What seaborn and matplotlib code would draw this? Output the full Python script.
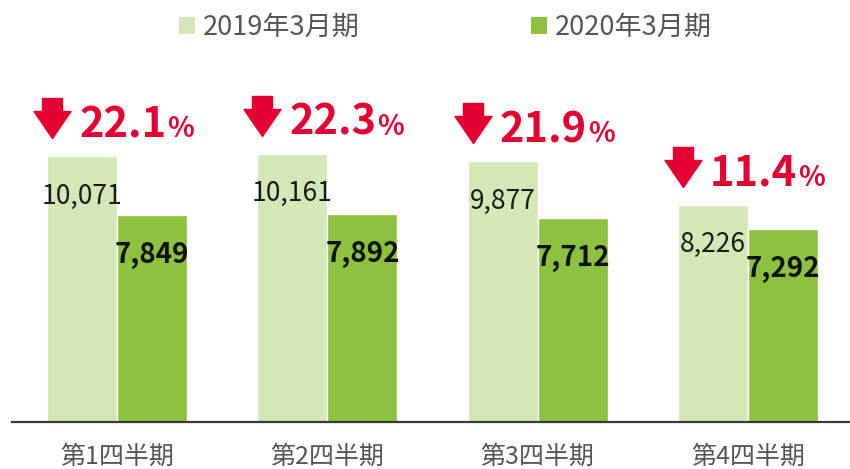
import numpy as np
import pandas as pd
import seaborn as sns
import matplotlib.pyplot as plt
from matplotlib.patches import Patch
from matplotlib.path import Path
from matplotlib.transforms import offset_copy

quarters = ["第1四半期", "第2四半期", "第3四半期", "第4四半期"]
series = ["2019年3月期", "2020年3月期"]
values_2019 = [10071, 10161, 9877, 8226]
values_2020 = [7849, 7892, 7712, 7292]
declines = ["22.1", "22.3", "21.9", "11.4"]

colors = ["#D3E8B6", "#8DC23F"]
red = "#E50032"

df = pd.DataFrame({
    "quarter": quarters * 2,
    "period": [series[0]] * len(quarters) + [series[1]] * len(quarters),
    "value": values_2019 + values_2020,
})

sns.set_theme(style="white")
plt.rcParams['font.family'] = ['Noto Sans CJK JP', 'DejaVu Sans']

W, H = 850, 469
fig = plt.figure(figsize=(W / 100, H / 100), dpi=100)
ax = fig.add_axes([12 / W, 1 - 422 / H, 841 / W, 362 / H])
sns.barplot(data=df, x="quarter", y="value", hue="period", palette=colors,
            width=0.665, saturation=1, ax=ax, legend=False, errorbar=None)
ax.set_xlim(-0.5, 3.5)
ax.set_ylim(0, 13707)
ax.set_xlabel("")
ax.set_ylabel("")
ax.set_yticks([])
for s in ["left", "right", "top"]:
    ax.spines[s].set_visible(False)
ax.spines["bottom"].set_color("#3a3a3a")
ax.spines["bottom"].set_linewidth(1.6)
ax.tick_params(axis="x", length=0, pad=16, labelsize=18, labelcolor="#555555")

px = 0.72  # points per pixel

# arrow marker
arrow = Path([(-10, 20), (10, 20), (10, 7), (18.5, 7), (0, -20), (-18.5, 7), (-10, 7), (-10, 20)],
             [Path.MOVETO] + [Path.LINETO] * 6 + [Path.CLOSEPOLY])

light_bars = ax.containers[0]
dark_bars = ax.containers[1]

for bar, v, d in zip(light_bars, values_2019, declines):
    cx = bar.get_x() + bar.get_width() / 2
    h = bar.get_height()
    ax.annotate(f"{v:,}", xy=(cx, h), xytext=(0, -40 * px), textcoords="offset points",
                ha="center", va="center", fontsize=19, color="#1a1a1a")
    left = bar.get_x()
    tr = offset_copy(ax.transData, fig=fig, x=5, y=38, units="dots")
    ax.plot([left], [h], marker=arrow, markersize=40 * px, color=red, ls="none",
            transform=tr, clip_on=False)
    t = ax.annotate(d, xy=(left, h), xytext=(32 * px, 19 * px), textcoords="offset points",
                    ha="left", va="baseline", fontsize=30, fontweight="bold", color=red,
                    annotation_clip=False)
    ax.annotate("%", xy=(1, 0), xycoords=t, xytext=(1 * px, 2.2), textcoords="offset points",
                ha="left", va="bottom", fontsize=20, fontweight="bold", color=red,
                annotation_clip=False)

for bar, v in zip(dark_bars, values_2020):
    cx = bar.get_x() + bar.get_width() / 2
    h = bar.get_height()
    ax.annotate(f"{v:,}", xy=(cx, h), xytext=(0, -40 * px), textcoords="offset points",
                ha="center", va="center", fontsize=20, fontweight="bold", color="#111111")

handles = [Patch(facecolor=c, edgecolor="none") for c in colors]
fig.legend(handles=handles, labels=series, loc="upper center", bbox_to_anchor=(0.524, 1 - 14 / H),
           ncol=2, frameon=False, handlelength=0.6, handleheight=0.6, handletextpad=0.3,
           columnspacing=6.3, fontsize=19.5, labelcolor="#555555", borderpad=0, borderaxespad=0)

fig.savefig("out.png", dpi=100)
